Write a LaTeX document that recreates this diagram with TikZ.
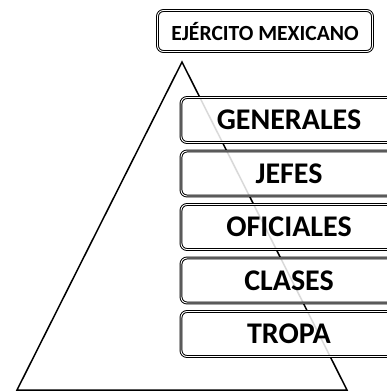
\documentclass[tikz,border=0pt]{standalone}
\usepackage{fontspec}
\setmainfont{Carlito}
\usetikzlibrary{positioning}

\tikzset{
	rango/.style = {draw, double, line width = 1pt, double distance = 0.9pt,
		rounded corners = 6pt, fill = white, fill opacity = 0.85, text opacity = 1,
		minimum width = 216pt, minimum height = 45pt, inner sep = 0pt,
		font = \bfseries\fontsize{30}{30}\selectfont},
	titulo/.style = {rango, minimum width = 215pt, minimum height = 41pt,
		fill opacity = 1, font = \bfseries\fontsize{21.6}{21.6}\selectfont},
}

\begin{document}
\begin{tikzpicture}[x = 1pt, y = -1pt]
		\def\ancho{387};
		\def\alto{392};
		
		\useasboundingbox (0,0) rectangle (\ancho,\alto);
		\clip (0,0) rectangle (\ancho,\alto);
		
		% piramide
		\begin{scope}[line width = 1.5pt, line join = miter]
		\draw (182,62) coordinate (cima) -- (17,390) coordinate (izq) -- (347,390) coordinate (der) -- cycle;
		\end{scope}
		
		\node [titulo] (ejercito) at (265,31) {EJÉRCITO MEXICANO};
		
		% niveles
		\begin{scope}[node distance = 7.5pt]
		\node [rango] (generales) at (289,120) {GENERALES};
		\node [rango, below = of generales] (jefes) {JEFES};
		\node [rango, below = of jefes] (oficiales) {OFICIALES};
		\node [rango, below = of oficiales] (clases) {CLASES};
		\node [rango, below = of clases] (tropa) {TROPA};
		\end{scope}
	\end{tikzpicture}
\end{document}
